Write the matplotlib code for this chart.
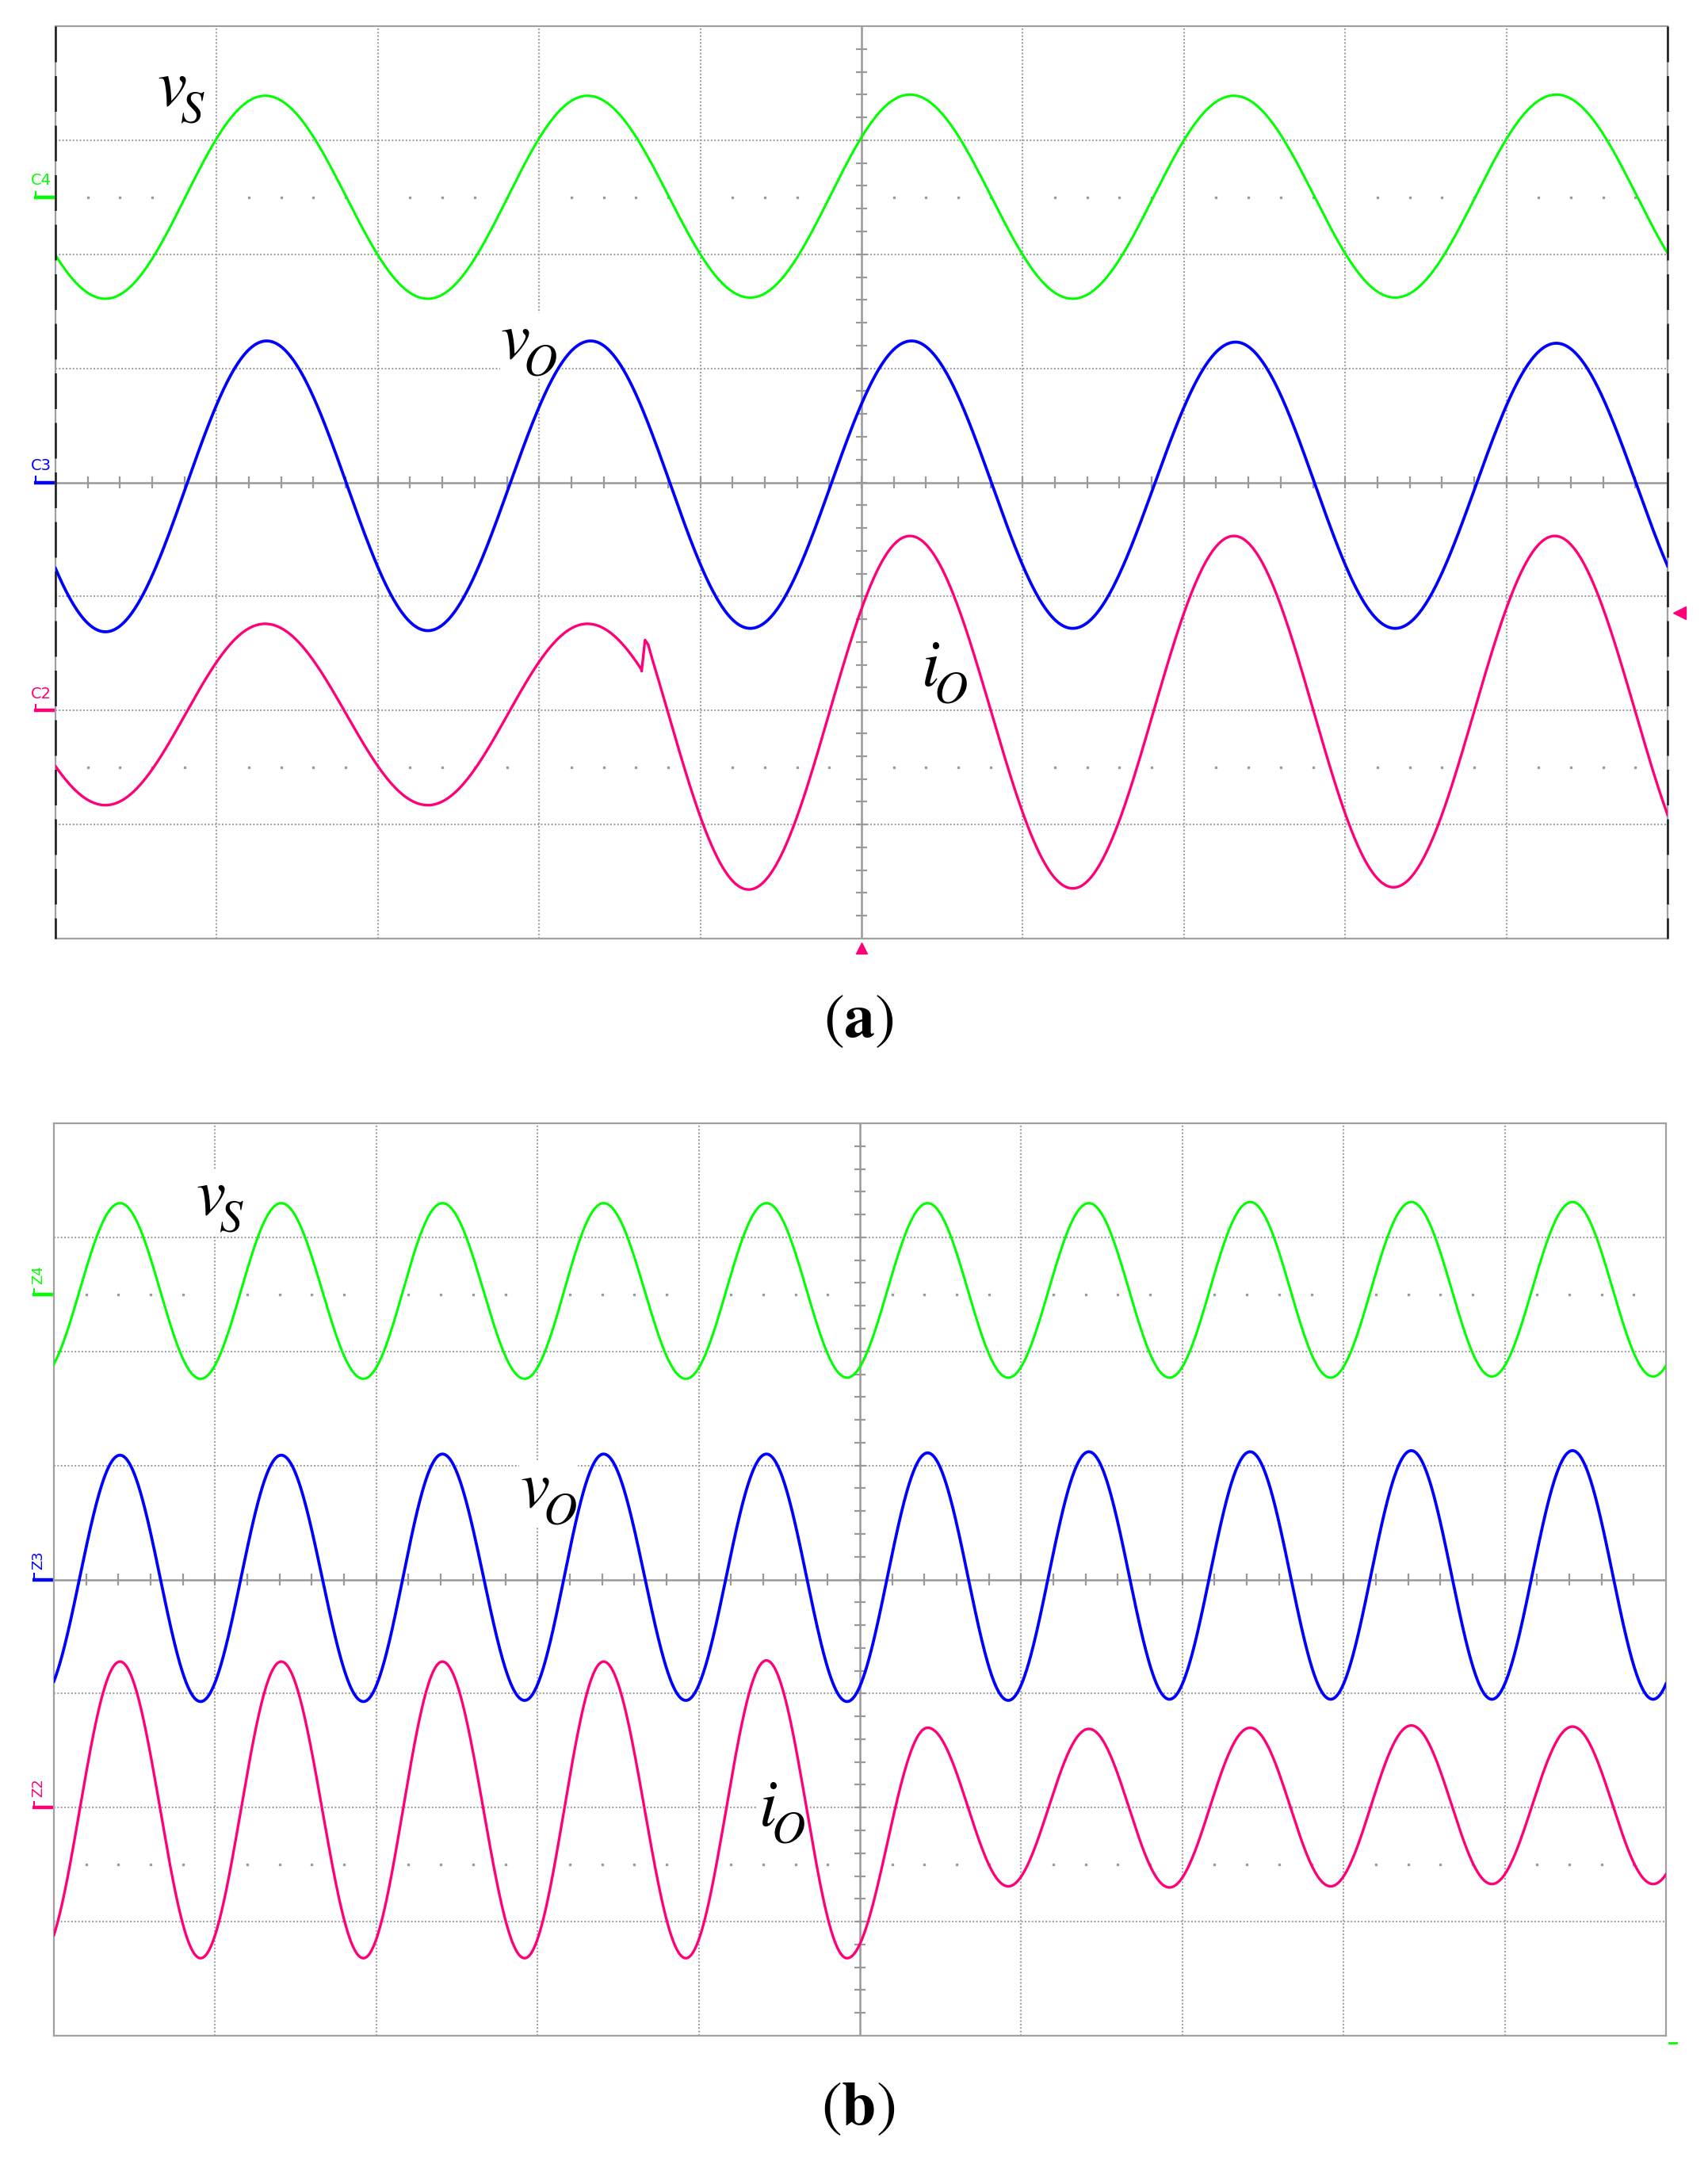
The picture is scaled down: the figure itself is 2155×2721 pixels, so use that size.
import numpy as np
import matplotlib
matplotlib.use('Agg')
import matplotlib.pyplot as plt
from matplotlib import transforms

plt.rcParams['mathtext.fontset'] = 'stix'

# --- (a) ---
vs_a_t = [-0.70, 0.31, 1.30, 2.31, 3.30, 4.31, 5.30, 6.31, 7.31, 8.31, 9.31, 10.31]
vs_a_v = [7.39, 5.61, 7.39, 5.61, 7.39, 5.62, 7.40, 5.61, 7.39, 5.62, 7.40, 5.62]

vo_a_t = [-0.69, 0.31, 1.31, 2.31, 3.32, 4.31, 5.31, 6.31, 7.32, 8.31, 9.31, 10.31]
vo_a_v = [5.23, 2.69, 5.24, 2.70, 5.24, 2.72, 5.24, 2.72, 5.23, 2.72, 5.22, 2.72]

# load current: small before the load step, spike, then large
io_a_pre_t = [-0.70, 0.31, 1.30, 2.31, 3.30, 4.30]
io_a_pre_v = [2.76, 1.17, 2.76, 1.17, 2.76, 1.17]
io_a_spike_t = [3.636, 3.657, 3.677]
io_a_spike_v = [2.344, 2.618, 2.576]
io_a_post_t = [3.30, 4.30, 5.30, 6.31, 7.31, 8.30, 9.30, 10.30]
io_a_post_v = [3.53, 0.43, 3.53, 0.44, 3.53, 0.45, 3.53, 0.45]

# --- (b) ---
ext_b_t = [-0.09, 0.41, 0.91, 1.41, 1.92, 2.41, 2.92, 3.41, 3.92, 4.42, 4.92,
           5.42, 5.92, 6.42, 6.92, 7.42, 7.92, 8.42, 8.92, 9.42, 9.92, 10.42]
vs_b_v = [5.77, 7.30, 5.76, 7.30, 5.76, 7.30, 5.76, 7.30, 5.76, 7.30, 5.77,
          7.30, 5.77, 7.30, 5.77, 7.31, 5.77, 7.31, 5.78, 7.31, 5.78, 7.31]
vo_b_v = [2.94, 5.09, 2.93, 5.09, 2.93, 5.10, 2.94, 5.10, 2.94, 5.10, 2.93,
          5.11, 2.94, 5.12, 2.95, 5.12, 2.95, 5.13, 2.95, 5.13, 2.95, 5.13]
io_b_v = [0.68, 3.28, 0.68, 3.28, 0.68, 3.28, 0.68, 3.28, 0.68, 3.29, 0.68,
          2.70, 1.31, 2.69, 1.30, 2.70, 1.31, 2.72, 1.33, 2.71, 1.33, 2.70]

GREEN = '#00ff00'
BLUE = '#0000ff'
PINK = '#ff0078'
GRID = '#9c9c9c'
AXIS = '#999999'


def trace(tx, vy, x):
    # half-cosine between consecutive extrema
    tx = np.asarray(tx, float)
    vy = np.asarray(vy, float)
    i = np.clip(np.searchsorted(tx, x) - 1, 0, len(tx) - 2)
    u = (x - tx[i]) / (tx[i + 1] - tx[i])
    w = (1 - np.cos(np.pi * u)) / 2
    return vy[i] + (vy[i + 1] - vy[i]) * w


def screen(ax, dashed_sides):
    ax.set_xlim(0, 10)
    ax.set_ylim(0, 8)
    ax.set_xticks([])
    ax.set_yticks([])
    for s in ax.spines.values():
        s.set_color('#a0a0a0')
        s.set_linewidth(1.6)
    for gx in range(1, 10):
        if gx != 5:
            ax.axvline(gx, color=GRID, lw=1.5, ls=(0, (0.9, 1.2)), zorder=1)
    for gy in range(1, 8):
        if gy != 4:
            ax.axhline(gy, color=GRID, lw=1.5, ls=(0, (0.9, 1.2)), zorder=1)
    ax.axvline(5, color=AXIS, lw=1.8, zorder=1)
    ax.axhline(4, color=AXIS, lw=1.8, zorder=1)
    mx = np.arange(0.2, 10, 0.2)
    my = np.arange(0.2, 8, 0.2)
    ax.vlines(mx, 4 - 0.05, 4 + 0.05, color=AXIS, lw=1.6, zorder=1)
    ax.hlines(my, 5 - 0.034, 5 + 0.034, color=AXIS, lw=1.6, zorder=1)
    dots = mx[np.abs(mx - np.round(mx)) > 0.05]
    for yy in (1.5, 6.5):
        ax.plot(dots, np.full(len(dots), yy), ls='none', marker='s', ms=1.8,
                color=GRID, zorder=1)
    if dashed_sides:
        for xx in (0, 10):
            ax.plot([xx, xx], [8, 0], color='#1a1a1a', lw=1.8,
                    ls=(0, (18, 7)), clip_on=False, zorder=4)


def ch_mark(ax, y, name, color, rotated):
    tr = transforms.blended_transform_factory(ax.transAxes, ax.transData)
    ax.plot([-0.0135, 0], [y, y], color=color, lw=3.2, transform=tr,
            clip_on=False, solid_capstyle='butt')
    ax.plot([-0.0125, -0.0125], [y, y + 0.05], color=color, lw=1.5,
            transform=tr, clip_on=False)
    if rotated:
        ax.text(-0.0095, y + 0.09, name, color=color, fontsize=13,
                rotation=90, ha='center', va='bottom', transform=tr)
    else:
        ax.text(-0.0088, y + 0.08, name, color=color, fontsize=14,
                ha='center', va='bottom', transform=tr)


def sig_label(ax, x, y, main, sub):
    # empty superscript pushes the subscript lower, as in the original figure
    ax.text(x, y, r'$%s^{\ }_{\!%s}$' % (main, sub), fontsize=60,
            ha='left', va='baseline', zorder=2,
            bbox=dict(fc='white', ec='none', pad=0.5))


fig = plt.figure(figsize=(21.55, 27.21), dpi=100)
ax_a = fig.add_axes([70 / 2155, 1 - 1184 / 2721, 2034 / 2155, 1151 / 2721])
ax_b = fig.add_axes([68 / 2155, 1 - 2568 / 2721, 2034 / 2155, 1151 / 2721])

x = np.linspace(0, 10, 3001)

# (a)
screen(ax_a, True)
ax_a.plot(x, trace(vs_a_t, vs_a_v, x), color=GREEN, lw=2.2, zorder=3)
ax_a.plot(x, trace(vo_a_t, vo_a_v, x), color=BLUE, lw=2.7, zorder=3)
x_pre = x[x <= io_a_spike_t[0]]
x_post = x[x >= 3.70]
io_x = np.concatenate([x_pre, io_a_spike_t, x_post])
io_y = np.concatenate([trace(io_a_pre_t, io_a_pre_v, x_pre), io_a_spike_v,
                       trace(io_a_post_t, io_a_post_v, x_post)])
ax_a.plot(io_x, io_y, color=PINK, lw=2.4, zorder=3)
ch_mark(ax_a, 6.5, 'C4', GREEN, False)
ch_mark(ax_a, 4.0, 'C3', BLUE, False)
ch_mark(ax_a, 2.0, 'C2', PINK, False)
ax_a.plot(5, -0.08, marker='^', ms=10, color=PINK, clip_on=False)
ax_a.plot(10.075, 2.86, marker='<', ms=11, color=PINK, clip_on=False)
sig_label(ax_a, 0.63, 7.30, 'v', 'S')
sig_label(ax_a, 2.76, 5.09, 'v', 'O')
sig_label(ax_a, 5.37, 2.22, 'i', 'O')

# (b)
screen(ax_b, False)
ax_b.plot(x, trace(ext_b_t, vs_b_v, x), color=GREEN, lw=2.2, zorder=3)
ax_b.plot(x, trace(ext_b_t, vo_b_v, x), color=BLUE, lw=2.7, zorder=3)
ax_b.plot(x, trace(ext_b_t, io_b_v, x), color=PINK, lw=2.4, zorder=3)
ch_mark(ax_b, 6.5, 'Z4', GREEN, True)
ch_mark(ax_b, 4.0, 'Z3', BLUE, True)
ch_mark(ax_b, 2.0, 'Z2', PINK, True)
ax_b.plot([10.02, 10.065], [-0.06, -0.06], color=GREEN, lw=2, clip_on=False)
sig_label(ax_b, 0.88, 7.20, 'v', 'S')
sig_label(ax_b, 2.89, 4.64, 'v', 'O')
sig_label(ax_b, 4.37, 1.85, 'i', 'O')

fig.text(1083 / 2155, 1 - 1286 / 2721, r'$(\mathbf{a})$', ha='center',
         va='center', fontsize=56)
fig.text(1083 / 2155, 1 - 2658 / 2721, r'$(\mathbf{b})$', ha='center',
         va='center', fontsize=56)

fig.savefig('out.png', dpi=100, facecolor='white')
plt.close('all')
